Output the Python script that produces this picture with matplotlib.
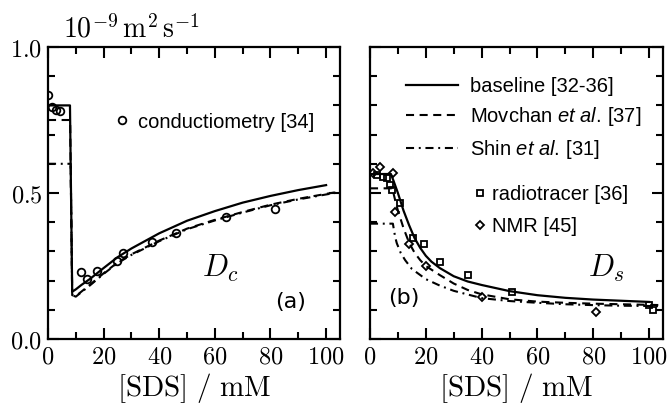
import matplotlib
matplotlib.use("Agg")
import matplotlib.pyplot as plt
from matplotlib.font_manager import FontProperties
from matplotlib.lines import Line2D
from matplotlib.ticker import MultipleLocator

# (a) collective diffusion coefficient D_c, 1e-9 m^2/s vs [SDS] in mM
a_base_x = [0, 7.9, 8.7, 10, 12, 15, 20, 25, 30, 40, 50, 60, 70, 80, 90, 100]
a_base_y = [0.80, 0.80, 0.162, 0.170, 0.185, 0.205, 0.243, 0.280, 0.310, 0.362,
            0.405, 0.438, 0.467, 0.490, 0.510, 0.527]
a_movchan_x = [0, 7.96, 8.7, 10, 15, 20, 25, 30, 40, 50, 60, 70, 80, 90, 100, 105]
a_movchan_y = [0.75, 0.75, 0.15, 0.147, 0.185, 0.225, 0.262, 0.290, 0.337, 0.378,
               0.408, 0.435, 0.460, 0.480, 0.497, 0.505]
a_shin_x = [0, 8.15, 8.7, 10, 15, 20, 25, 30, 40, 50, 60, 70, 80, 90, 100, 105]
a_shin_y = [0.60, 0.60, 0.15, 0.145, 0.183, 0.223, 0.260, 0.288, 0.335, 0.376,
            0.406, 0.433, 0.458, 0.478, 0.495, 0.503]
cond_x = [0, 1.5, 3.0, 4.3, 11.7, 13.9, 17.7, 24.7, 26.9, 37.4, 46.1, 64.0, 81.6]
cond_y = [0.836, 0.794, 0.783, 0.781, 0.230, 0.205, 0.233, 0.268, 0.294, 0.333,
          0.364, 0.419, 0.446]

# (b) self-diffusion coefficient D_s
b_base_x = [0, 7.5, 8.5, 10, 12, 14, 16, 18, 20, 22, 25, 30, 35, 40, 50, 60, 70,
            80, 90, 100]
b_base_y = [0.565, 0.565, 0.540, 0.500, 0.440, 0.390, 0.345, 0.312, 0.285, 0.265,
            0.243, 0.215, 0.197, 0.185, 0.164, 0.150, 0.141, 0.135, 0.131, 0.127]
b_movchan_x = [0, 8, 9, 10, 12, 14, 16, 18, 20, 25, 30, 35, 40, 50, 60, 70, 80,
               90, 100, 105]
b_movchan_y = [0.516, 0.516, 0.476, 0.440, 0.380, 0.330, 0.295, 0.270, 0.250,
               0.219, 0.190, 0.168, 0.153, 0.136, 0.128, 0.124, 0.121, 0.119,
               0.117, 0.116]
b_shin_x = [0, 8.2, 9, 9.6, 11, 12.6, 15, 20, 25, 30, 40, 50, 60, 70, 80, 90,
            100, 105]
b_shin_y = [0.395, 0.395, 0.350, 0.328, 0.295, 0.270, 0.240, 0.205, 0.183, 0.165,
            0.140, 0.130, 0.124, 0.119, 0.116, 0.114, 0.113, 0.112]
tracer_x = [2.5, 4.8, 6.0, 7.2, 7.8, 10.8, 15.4, 19.2, 25.0, 35.0, 51.0, 100.0, 101.3]
tracer_y = [0.560, 0.556, 0.550, 0.527, 0.510, 0.465, 0.346, 0.324, 0.263, 0.220,
            0.161, 0.116, 0.100]
nmr_x = [1.2, 3.6, 8.2, 9.0, 13.8, 20.0, 40.2, 81.0]
nmr_y = [0.567, 0.590, 0.570, 0.434, 0.325, 0.251, 0.143, 0.091]

x_ticks = [0, 20, 40, 60, 80, 100]
y_ticks = [0.0, 0.5, 1.0]

plt.rcParams["mathtext.fontset"] = "cm"
plt.rcParams["mathtext.rm"] = "Liberation Sans"
plt.rcParams["mathtext.it"] = "Liberation Sans:italic"
plt.rcParams["lines.scale_dashes"] = False

DASHED = [5.8, 4.0]
DASHDOT = [5.8, 3.4, 1.4, 3.4]
leg_font = FontProperties(family="Liberation Sans", size=14.5, math_fontfamily="custom")

fig = plt.figure(figsize=(6.68, 4.05), dpi=100)
ax_a = fig.add_axes([48 / 668, 66 / 405, 292 / 668, 292 / 405])
ax_b = fig.add_axes([370 / 668, 66 / 405, 293 / 668, 292 / 405])

for ax in (ax_a, ax_b):
    ax.set_xlim(0, 105)
    ax.set_ylim(0, 1.0)
    ax.xaxis.set_minor_locator(MultipleLocator(10))
    ax.yaxis.set_minor_locator(MultipleLocator(0.1))
    ax.set_xticks(x_ticks, labels=[f"${t}$" for t in x_ticks])
    ax.set_yticks(y_ticks, labels=[f"${t:.1f}$" for t in y_ticks])
    ax.tick_params(which="both", direction="in", top=True, right=True,
                   width=1.5, labelsize=17.5, pad=4)
    ax.tick_params(which="major", length=8)
    ax.tick_params(which="minor", length=5)
    for s in ax.spines.values():
        s.set_linewidth(1.6)
    ax.set_xlabel(r"$[\mathrm{SDS}]\ /\ \mathrm{mM}$", fontsize=21, labelpad=2)

ax_b.tick_params(labelleft=False)

# panel (a)
ax_a.plot(a_base_x, a_base_y, color="black", lw=1.6)
ax_a.plot(a_movchan_x, a_movchan_y, color="black", lw=1.5, dashes=DASHED)
ax_a.plot(a_shin_x, a_shin_y, color="black", lw=1.5, dashes=DASHDOT)
ax_a.plot(cond_x, cond_y, "o", mfc="none", mec="black", ms=5.5, mew=1.3)
ax_a.legend(handles=[Line2D([], [], ls="none", marker="o", mfc="none", mec="black",
                            ms=5.5, mew=1.3)],
            labels=["conductiometry [34]"], prop=leg_font, frameon=False,
            loc="center left", bbox_to_anchor=(0.226, 0.743), borderpad=0,
            borderaxespad=0, handlelength=0.8, handletextpad=0.4)
ax_a.text(0.589, 0.243, r"$D_c$", transform=ax_a.transAxes, fontsize=22,
          ha="center", va="center")
ax_a.text(0.829, 0.127, "(a)", transform=ax_a.transAxes, fontsize=16,
          family="DejaVu Sans", ha="center", va="center")

# panel (b)
l1, = ax_b.plot(b_base_x, b_base_y, color="black", lw=1.6)
l2, = ax_b.plot(b_movchan_x, b_movchan_y, color="black", lw=1.5, dashes=DASHED)
l3, = ax_b.plot(b_shin_x, b_shin_y, color="black", lw=1.5, dashes=DASHDOT)
m1, = ax_b.plot(tracer_x, tracer_y, "s", mfc="none", mec="black", ms=5, mew=1.3)
m2, = ax_b.plot(nmr_x, nmr_y, "D", mfc="none", mec="black", ms=4.5, mew=1.3)

leg_lines = ax_b.legend(handles=[l1, l2, l3],
                        labels=["baseline [32-36]",
                                r"Movchan $\mathit{et\ al.}\,$[37]",
                                r"Shin $\mathit{et\ al.}\,$[31]"],
                        prop=leg_font, frameon=False, loc="center left",
                        bbox_to_anchor=(0.1229, 0.754), borderpad=0,
                        borderaxespad=0, handlelength=2.58, handletextpad=0.6,
                        labelspacing=0.47)
ax_b.add_artist(leg_lines)
ax_b.legend(handles=[m1, m2], labels=["radiotracer [36]", "NMR [45]"],
            prop=leg_font, frameon=False, loc="center left",
            bbox_to_anchor=(0.348, 0.44), borderpad=0, borderaxespad=0,
            handlelength=0.8, handletextpad=0.2, labelspacing=0.65)
ax_b.text(0.805, 0.243, r"$D_s$", transform=ax_b.transAxes, fontsize=22,
          ha="center", va="center")
ax_b.text(0.116, 0.140, "(b)", transform=ax_b.transAxes, fontsize=16,
          family="DejaVu Sans", ha="center", va="center")

fig.text(63 / 668, 1 - 37.5 / 405, r"$10^{-9}\,\mathrm{m}^2\,\mathrm{s}^{-1}$",
         fontsize=20, ha="left", va="baseline")

fig.savefig("out.png", dpi=100)
